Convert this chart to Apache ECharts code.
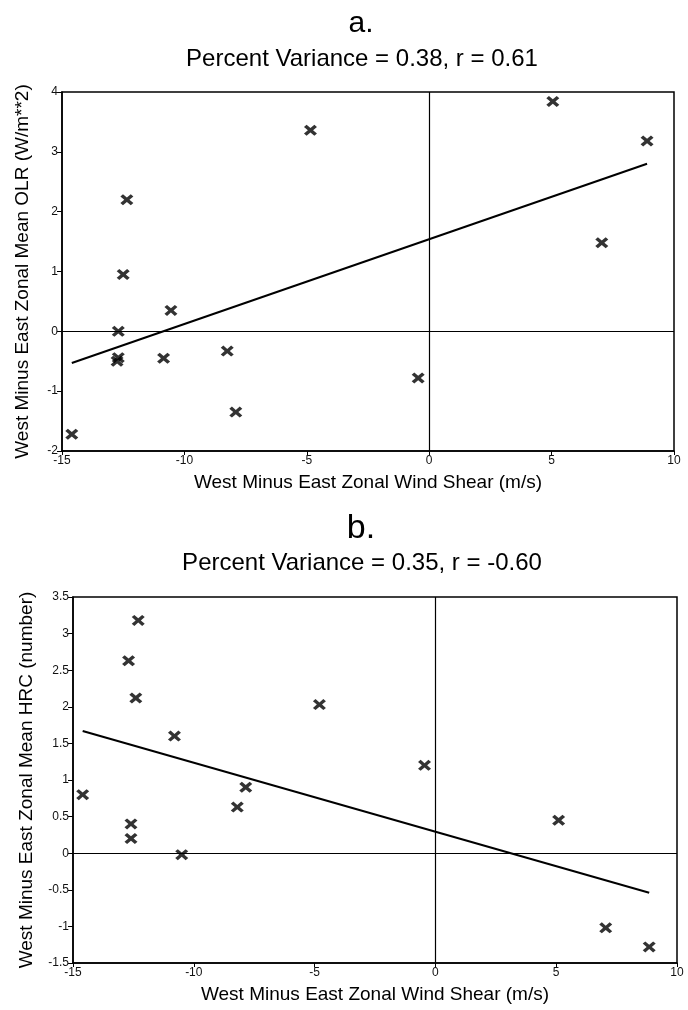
<!DOCTYPE html>
<html>
    <head>
        <meta charset="utf-8">
        <title>Wind shear vs OLR / HRC</title>
        <script src="https://cdn.jsdelivr.net/npm/echarts@6/dist/echarts.min.js"></script>
        <style>
            body { margin: 0; background: #fff; }
        </style>
    </head>
    <body>
        <div id="container" style="width: 688px; height: 1010px"></div>
    </body>
    <script>
        // panel a: OLR
        var olrShear  = [-14.6, -12.75, -12.7, -12.7, -12.5, -12.35, -10.85, -10.55, -8.25, -7.9, -4.85, -0.45, 5.05, 7.05, 8.9];
        var olrValues = [-1.72, -0.5, -0.44, 0.0, 0.95, 2.2, -0.45, 0.35, -0.33, -1.35, 3.36, -0.78, 3.84, 1.48, 3.18];
        var olrFitShear  = [-14.6, 8.9];
        var olrFitValues = [-0.53, 2.8];

        // panel b: HRC
        var hrcShear  = [-14.6, -12.7, -12.6, -12.6, -12.4, -12.3, -10.8, -10.5, -8.2, -7.85, -4.8, -0.45, 5.1, 7.05, 8.85];
        var hrcValues = [0.8, 2.63, 0.4, 0.2, 2.12, 3.18, 1.6, -0.02, 0.63, 0.9, 2.03, 1.2, 0.45, -1.02, -1.28];
        var hrcFitShear  = [-14.6, 8.85];
        var hrcFitValues = [1.67, -0.54];

        var xName = 'West Minus East Zonal Wind Shear (m/s)';
        var olrName = 'West Minus East Zonal Mean OLR (W/m**2)';
        var hrcName = 'West Minus East Zonal Mean HRC (number)';

        var FONT = '"Liberation Sans", Arial, sans-serif';
        // filled "x" marker, thick arms
        var crossPath = 'path://M0,4L4,0L10,6L16,0L20,4L14,10L20,16L16,20L10,14L4,20L0,16L6,10Z';

        function pairs(xs, ys) {
            return xs.map(function (x, i) { return [x, ys[i]]; });
        }

        function xAxisFor(idx) {
            return {
                gridIndex: idx,
                type: 'value',
                min: -15, max: 10, interval: 5,
                name: xName,
                nameLocation: 'middle',
                nameGap: 22,
                nameTextStyle: { color: '#000', fontSize: 19, fontFamily: FONT },
                axisLine: { show: true, onZero: false, lineStyle: { color: '#000', width: 1.5 } },
                axisTick: { show: true, inside: false, length: 4, lineStyle: { color: '#000' } },
                axisLabel: { color: '#111', fontSize: 12, fontFamily: FONT, margin: 4 },
                splitLine: { show: false }
            };
        }

        function yAxisFor(idx, min, max, interval, name, gap) {
            return {
                gridIndex: idx,
                type: 'value',
                min: min, max: max, interval: interval,
                name: name,
                nameLocation: 'middle',
                nameRotate: 90,
                nameGap: gap,
                nameTextStyle: { color: '#000', fontSize: 19, fontFamily: FONT },
                axisLine: { show: true, onZero: false, lineStyle: { color: '#000', width: 1.5 } },
                axisTick: { show: true, inside: false, length: 5, lineStyle: { color: '#000' } },
                axisLabel: { color: '#111', fontSize: 12, fontFamily: FONT, margin: 4 },
                splitLine: { show: false }
            };
        }

        var zeroLines = {
            silent: true,
            symbol: 'none',
            label: { show: false },
            lineStyle: { color: '#000', width: 1.2, type: 'solid' },
            data: [{ xAxis: 0 }, { yAxis: 0 }],
            animation: false
        };

        function scatterFor(idx, xs, ys) {
            return {
                type: 'scatter',
                xAxisIndex: idx,
                yAxisIndex: idx,
                data: pairs(xs, ys),
                symbol: crossPath,
                symbolSize: [13, 11],
                itemStyle: { color: '#000' },
                markLine: zeroLines,
                z: 5
            };
        }

        function fitFor(idx, xs, ys) {
            return {
                type: 'line',
                xAxisIndex: idx,
                yAxisIndex: idx,
                data: pairs(xs, ys),
                showSymbol: false,
                lineStyle: { color: '#000', width: 2 },
                z: 4
            };
        }

        var chartDom = document.getElementById('container');
        var myChart = echarts.init(chartDom);

        var option = {
            backgroundColor: '#fff',
            animation: false,
            title: [
                { text: 'a.', left: 356, top: 4, textAlign: 'center',
                  textStyle: { fontSize: 30, fontWeight: 'normal', color: '#000', fontFamily: FONT } },
                { text: 'Percent Variance = 0.38, r = 0.61', left: 357, top: 42, textAlign: 'center',
                  textStyle: { fontSize: 24, fontWeight: 'normal', color: '#000', fontFamily: FONT } },
                { text: 'b.', left: 356, top: 507, textAlign: 'center',
                  textStyle: { fontSize: 34, fontWeight: 'normal', color: '#000', fontFamily: FONT } },
                { text: 'Percent Variance = 0.35, r = -0.60', left: 357, top: 546, textAlign: 'center',
                  textStyle: { fontSize: 24, fontWeight: 'normal', color: '#000', fontFamily: FONT } }
            ],
            grid: [
                { left: 62, right: 14, top: 92, height: 359, show: true, borderColor: '#000', borderWidth: 1.5 },
                { left: 73, right: 11, top: 597, height: 366, show: true, borderColor: '#000', borderWidth: 1.5 }
            ],
            xAxis: [xAxisFor(0), xAxisFor(1)],
            yAxis: [
                yAxisFor(0, -2, 4, 1, olrName, 30),
                yAxisFor(1, -1.5, 3.5, 0.5, hrcName, 37)
            ],
            series: [
                fitFor(0, olrFitShear, olrFitValues),
                scatterFor(0, olrShear, olrValues),
                fitFor(1, hrcFitShear, hrcFitValues),
                scatterFor(1, hrcShear, hrcValues)
            ]
        };

        myChart.setOption(option);
    </script>
</html>
